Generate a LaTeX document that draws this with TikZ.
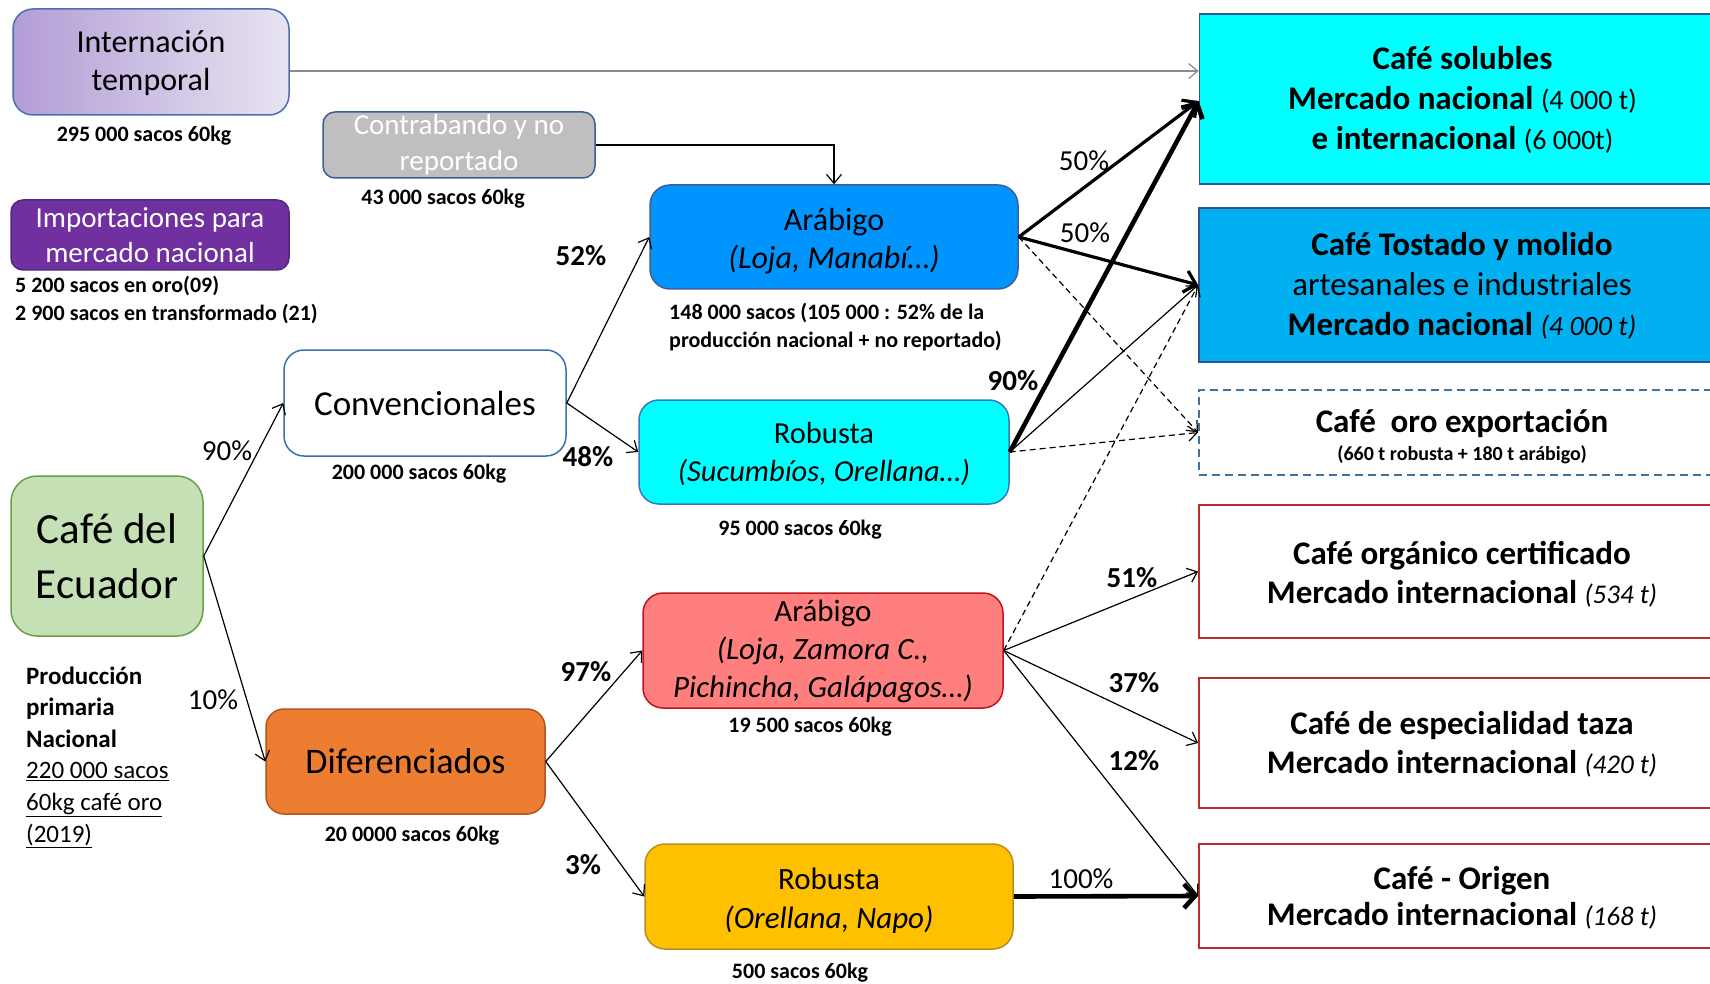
\documentclass[tikz,border=0pt]{standalone}
\usepackage{fontspec}
\setmainfont{Carlito}
\usetikzlibrary{arrows.meta}
\newcommand\fsz[2]{\fontsize{#1}{#2}\selectfont}
% strut on a first line: lowers a centred block by about half of #1
\newcommand\lift[1]{\rule{0pt}{\dimexpr\fontcharht\font`\b+#1\relax}}

\definecolor{intL}{HTML}{B29DD5}
\definecolor{intR}{HTML}{E8E4F2}
\definecolor{intB}{HTML}{4A6FB0}
\definecolor{conFill}{HTML}{BFBFBF}
\definecolor{conB}{HTML}{3A5E96}
\definecolor{impFill}{HTML}{7030A0}
\definecolor{impB}{HTML}{4F2A7F}
\definecolor{ecuFill}{HTML}{C5E0B4}
\definecolor{ecuB}{HTML}{6A9F45}
\definecolor{convB}{HTML}{3A70AD}
\definecolor{difFill}{HTML}{ED7D31}
\definecolor{difB}{HTML}{B0561E}
\definecolor{arbFill}{HTML}{0094FF}
\definecolor{arbB}{HTML}{3C5F9A}
\definecolor{rbcFill}{HTML}{00FFFF}
\definecolor{rbcB}{HTML}{3A78B8}
\definecolor{arrFill}{HTML}{FF7F7F}
\definecolor{arrB}{HTML}{C0141C}
\definecolor{rbyFill}{HTML}{FFC000}
\definecolor{rbyB}{HTML}{B8901A}
\definecolor{solFill}{HTML}{00FFFF}
\definecolor{tosFill}{HTML}{00B0F0}
\definecolor{mktB}{HTML}{2F5597}
\definecolor{oroB}{HTML}{41719C}
\definecolor{redB}{HTML}{B5302A}
\definecolor{lineGray}{HTML}{8C8C8C}

\begin{document}
\begin{tikzpicture}[x=1pt,y=-1pt,
  box/.style={draw, line width=1.5pt, rounded corners=16pt, inner sep=0pt, align=center},
  mkt/.style={draw, line width=1.8pt, inner sep=0pt, align=center, minimum width=526pt},
  lbl/.style={font=\fsz{22}{28}\bfseries, inner sep=0pt},
  pct/.style={font=\fsz{29}{34}, inner sep=0pt},
  bpct/.style={font=\fsz{29}{34}\bfseries, inner sep=0pt},
  flow/.style={line width=1.2pt, -{Straight Barb[length=9pt,width=15pt]}},
  dflow/.style={flow, dash pattern=on 6pt off 4pt},
  heavy/.style={line width=3.2pt, -{Straight Barb[length=11pt,width=22pt]}},
  heavier/.style={line width=4.6pt, -{Straight Barb[length=11pt,width=24pt]}}
]
\clip (0,0) rectangle (1710,984);
\fill[white] (0,0) rectangle (1710,984);

% sources on the left
\node[box, left color=intL, right color=intR, draw=intB, minimum width=276pt, minimum height=106pt,
      rounded corners=20pt, font=\fsz{32}{38}] (int) at (151,62) {\lift{2pt}Internación\\temporal};
\node[box, fill=conFill, draw=conB, minimum width=272pt, minimum height=66pt, rounded corners=12pt,
      text=white, font=\fsz{29}{36}] (con) at (459,145) {Contrabando y no\\reportado};
\node[box, fill=impFill, draw=impB, minimum width=278pt, minimum height=70pt, rounded corners=12pt,
      text=white, font=\fsz{29}{35}] (imp) at (150,235) {Importaciones para\\mercado nacional};
\node[box, fill=ecuFill, draw=ecuB, minimum width=192pt, minimum height=160pt, rounded corners=26pt,
      font=\fsz{43}{55}] (ecu) at (107,556) {Café del\\Ecuador};

% production types
\node[box, fill=white, draw=convB, minimum width=282pt, minimum height=106pt, rounded corners=20pt,
      font=\fsz{35}{40}] (conv) at (425,403) {Convencionales};
\node[box, fill=difFill, draw=difB, minimum width=279pt, minimum height=105pt, rounded corners=18pt,
      font=\fsz{36}{40}] (dif) at (405.5,761.5) {Diferenciados};

% varieties
\node[box, fill=arbFill, draw=arbB, minimum width=368pt, minimum height=104pt, rounded corners=20pt,
      font=\fsz{32}{38}] (arb) at (834,237) {\lift{9pt}Arábigo\\\textit{(Loja, Manabí…)}};
\node[box, fill=rbcFill, draw=rbcB, minimum width=370pt, minimum height=104pt, rounded corners=20pt,
      font=\fsz{30.5}{38}] (rbc) at (824,452) {\lift{5pt}Robusta\\\textit{(Sucumbíos, Orellana…)}};
\node[box, fill=arrFill, draw=arrB, minimum width=360pt, minimum height=115pt, rounded corners=20pt,
      font=\fsz{31}{38}] (arr) at (823,650.5) {\lift{2pt}Arábigo\\\textit{(Loja, Zamora C.,}\\\textit{Pichincha, Galápagos…)}};
\node[box, fill=rbyFill, draw=rbyB, minimum width=368pt, minimum height=105pt, rounded corners=20pt,
      font=\fsz{31}{39}] (rby) at (829,896.5) {\lift{8pt}Robusta\\\textit{(Orellana, Napo)}};

% markets on the right
\node[mkt, fill=solFill, draw=mktB, minimum height=170pt, font=\fsz{33}{40}\bfseries] (sol) at (1462.5,99)
  {\lift{2pt}Café solubles\\Mercado nacional {\mdseries\fsz{28}{40}(4 000 t)}\\e internacional {\mdseries\fsz{28}{40}(6 000t)}};
\node[mkt, fill=tosFill, draw=mktB, minimum height=154pt, font=\fsz{33}{40}] (tos) at (1462,285)
  {\lift{2pt}\textbf{Café Tostado y molido}\\artesanales e industriales\\\textbf{Mercado nacional} {\itshape\fsz{28}{40}(4 000 t)}};
\node[mkt, fill=white, draw=oroB, dash pattern=on 8pt off 5pt, minimum height=85pt, font=\fsz{33}{40}\bfseries] (oro) at (1462,432.5)
  {\lift{9pt}Café\ \ oro exportación\\[-12pt]{\fsz{20}{24}(660 t robusta + 180 t arábigo)}};
\node[mkt, fill=white, draw=redB, minimum height=133pt, font=\fsz{33}{39}\bfseries] (org) at (1462,571.5)
  {\lift{5pt}Café orgánico certificado\\Mercado internacional {\mdseries\itshape\fsz{27}{39}(534 t)}};
\node[mkt, fill=white, draw=redB, minimum height=130pt, font=\fsz{33}{39}\bfseries] (esp) at (1462,743)
  {\lift{2pt}Café de especialidad taza\\Mercado internacional {\mdseries\itshape\fsz{27}{39}(420 t)}};
\node[mkt, fill=white, draw=redB, minimum height=104pt, font=\fsz{33}{36}\bfseries] (ori) at (1462,896)
  {\lift{3pt}Café - Origen\\Mercado internacional {\mdseries\itshape\fsz{27}{36}(168 t)}};

% quantities
\node[lbl] (q1) at (144,136) {295 000 sacos 60kg};
\node[lbl] (q2) at (443,199) {43 000 sacos 60kg};
\node[lbl, anchor=west, align=left] (q3) at (15,300) {5 200 sacos en oro(09)\\2 900 sacos en transformado (21)};
\node[lbl] (q4) at (419,474) {200 000 sacos 60kg};
\node[lbl, anchor=west, align=left] (q5) at (669,327) {148 000 sacos (105 000 : 52\% de la\\producción nacional + no reportado)};
\node[lbl] (q6) at (800,530) {95 000 sacos 60kg};
\node[lbl] (q7) at (810,727) {19 500 sacos 60kg};
\node[lbl] (q8) at (800,973) {500 sacos 60kg};
\node[lbl] (q9) at (412,836) {20 0000 sacos 60kg};
\node[font=\fsz{25}{31.6}, anchor=west, align=left, inner sep=0pt] (prod) at (26,757)
  {\textbf{Producción}\\\textbf{primaria}\\\textbf{Nacional}\\\underline{220 000 sacos}\\\underline{60kg café oro}\\\underline{(2019)}};

% flows
\draw[flow, draw=lineGray] ([yshift=-9pt]int.east) -- ([yshift=-9pt]int.east -| sol.west);
\draw[flow] (con.east) -| (arb.north);
\draw[flow] (ecu.east) -- (conv.west);
\draw[flow] (ecu.east) -- (dif.west);
\draw[flow] (conv.east) -- (arb.west);
\draw[flow] (conv.east) -- (rbc.west);
\draw[flow] (dif.east) -- (arr.west);
\draw[flow] (dif.east) -- (rby.west);

\draw[heavy] (arb.east) -- ([yshift=-2pt]sol.west);
\draw[heavy] (arb.east) -- (tos.west);
\draw[dflow] (arb.east) -- (oro.west);

\draw[heavier] (rbc.east) -- ([yshift=-2pt]sol.west);
\draw[flow] (rbc.east) -- (tos.west);
\draw[dflow] (rbc.east) -- (oro.west);

\draw[flow] (arr.east) -- (org.west);
\draw[flow] (arr.east) -- (esp.west);
\draw[flow] (arr.east) -- (ori.west);
\draw[dflow] (arr.east) -- (tos.west);

\draw[heavier] (rby.east) -- (ori.west);

% shares
\node[pct] (s1) at (227,451) {90\%};
\node[pct] (s2) at (213,700) {10\%};
\node[bpct] (s3) at (581,256) {52\%};
\node[bpct] (s4) at (588,457) {48\%};
\node[bpct] (s5) at (586,672) {97\%};
\node[bpct] (s6) at (583,865) {3\%};
\node[pct] (s7) at (1084,161) {50\%};
\node[pct] (s8) at (1085,233) {50\%};
\node[bpct] (s9) at (1013,381) {90\%};
\node[bpct] (s10) at (1132,578) {51\%};
\node[bpct] (s11) at (1134,683) {37\%};
\node[bpct] (s12) at (1134,761) {12\%};
\node[pct] (s13) at (1081,879) {100\%};
\end{tikzpicture}
\end{document}
